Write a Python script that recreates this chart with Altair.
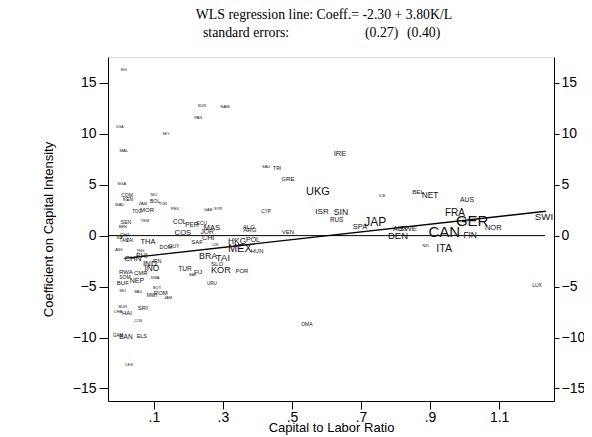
import altair as alt
import pandas as pd

# ---- country labels: name, capital/labor ratio, coefficient, weight (font size) ----
names = ["NIG","SUR","NAM","PAN","UGA","SEY","MAL","NGA","COM","KEN","NIC","MAD","ZAM","BOL","TUN",
         "TOG","MOR","REU","SEN","BEN","YEM","GAB","SYR","COL","PER","ECU","MAS","COS","JOR","CHI",
         "SAF","CZE","HKG","POL","MEX","HUN","BRA","TAI","SLO","KOR","POR","TUR","FIJ","BAR","URU",
         "THA","DOM","GUY","ANG","PNG","GHA","SIE","TAN","ZAI","CHN","PHI","IRN","IND","INO","RWA",
         "CMR","SOM","NEP","BUF","SWA","MLI","MAU","BOT","MWI","ROM","JAM","SRI","BUR","CHA","HAI",
         "CON","GAM","BAN","ELS","LES","SAU","TRI","IRE","GRE","UKG","ICE","ISR","SIN","RUS","CYP",
         "ALG","ARG","VEN","JAP","SPA","BEL","NET","AUS","FRA","GER","NOR","SWI","AUT","SWE","DEN",
         "CAN","FIN","NZL","ITA","OMA","LUX"]
kl = [0.013,0.239,0.306,0.228,0.001,0.135,0.013,0.007,0.022,0.025,0.100,0.001,0.068,0.103,0.126,
      0.051,0.080,0.161,0.019,0.010,0.074,0.257,0.286,0.175,0.210,0.239,0.268,0.184,0.254,0.257,
      0.225,0.277,0.341,0.387,0.349,0.399,0.257,0.300,0.283,0.294,0.355,0.190,0.228,0.213,0.268,
      0.083,0.135,0.158,-0.001,0.062,0.016,0.001,0.013,0.030,0.039,0.065,0.109,0.088,0.094,0.019,
      0.062,0.016,0.051,0.010,0.103,0.010,0.054,0.109,0.094,0.120,0.141,0.068,0.010,-0.004,0.022,
      0.054,-0.004,0.019,0.065,0.028,0.425,0.457,0.639,0.488,0.575,0.761,0.587,0.642,0.629,0.425,
      0.375,0.378,0.488,0.741,0.697,0.865,0.900,1.007,0.972,1.022,1.083,1.230,0.813,0.836,0.807,
      0.941,1.016,0.888,0.941,0.543,1.210]
coef = [16.3,12.7,12.6,11.5,10.7,9.96,8.3,5.06,3.98,3.59,3.98,3.0,3.1,3.4,3.1,
        2.32,2.5,2.6,1.33,0.84,1.43,2.5,2.6,1.33,1.04,1.24,0.75,0.26,0.35,-0.24,
        -0.63,-0.92,-0.63,-0.43,-1.32,-1.51,-2.0,-2.2,-2.79,-3.38,-3.47,-3.28,-3.57,-3.87,-4.75,
        -0.63,-1.12,-1.02,-1.41,-1.51,-0.04,-0.24,-0.53,-0.53,-2.3,-2.0,-2.49,-2.79,-3.18,-3.57,
        -3.67,-4.06,-4.46,-4.65,-4.16,-5.46,-5.56,-5.17,-5.85,-5.65,-6.12,-7.1,-7.0,-7.5,-7.6,
        -8.4,-9.85,-9.95,-9.85,-12.7,6.73,6.63,8.0,5.55,4.28,3.89,2.32,2.32,1.53,2.32,
        0.84,0.55,0.35,1.33,0.84,4.28,3.89,3.49,2.22,1.43,0.75,1.83,0.65,0.65,-0.04,
        0.35,-0.04,-1.02,-1.32,-8.67,-4.85]
weight = [3.5,4,4,4,3.5,3.5,4.3,4,5,5,4,4,4,5,4,
          4.5,6,4,5,4,4,4,4,6.5,6.5,5,7.7,7.7,6.7,7,
          6,3.5,8.3,7,11,5.8,8.8,9.6,6,9.2,6,6.5,6,3.5,4.6,
          7.5,5.5,5,3.5,3.5,4.5,4,4.5,4.5,8,7,5,8,8.4,6,
          6,5,7,6,4,4,3.5,4,5,6,4,6,4,4,6,
          3.5,4.5,6.5,5.5,4,4,5,7.6,6.2,11,4,8,8.6,6.3,4.7,
          6.2,6.2,6,12,7.5,6.2,8.3,6.8,10,15,7.5,9.7,7,8,9.5,
          15,8.3,4,10.7,5,5]

# regression line end points and zero reference line
reg_kl = [0.015, 1.235]
reg_coef = [-2.24, 2.39]
zero_kl = [-0.033, 1.233]
zero_coef = [0, 0]

x_ticks = [0.1, 0.3, 0.5, 0.7, 0.9, 1.1]
y_ticks = [-15, -10, -5, 0, 5, 10, 15]

title1 = ["WLS regression line: Coeff.= -2.30 + 3.80K/L"]
title2a = ["standard errors:"]
title2b = ["(0.27)"]
title2c = ["(0.40)"]

df = pd.DataFrame({"name": names, "kl": kl, "coef": coef, "w": weight})
reg = pd.DataFrame({"kl": reg_kl, "coef": reg_coef})
zero = pd.DataFrame({"kl": zero_kl, "coef": zero_coef})

xs = alt.Scale(domain=[-0.033, 1.259], nice=False, zero=False)
ys = alt.Scale(domain=[-16.23, 17.53], nice=False, zero=False)

FONT = "Liberation Sans"
SERIF = "Liberation Serif"

x_axis = alt.Axis(values=x_ticks, labelExpr="replace(format(datum.value, '.1f'), '0.', '.')",
                  grid=False, tickSize=8, labelPadding=1, labelFontSize=14, labelFont=FONT,
                  labelColor="black", domainColor="black", tickColor="black",
                  title="Capital to Labor Ratio", titleFont=FONT, titleFontSize=13,
                  titleFontWeight="normal", titlePadding=-3, titleColor="black")
y_axis = alt.Axis(values=y_ticks, grid=False, tickSize=9, labelPadding=3, labelFontSize=14,
                  labelFont=FONT, labelColor="black", domainColor="black", tickColor="black",
                  title="Coefficient on Capital Intensity", titleFont=FONT, titleFontSize=13,
                  titleFontWeight="normal", titlePadding=17, titleColor="black")
y_axis_r = alt.Axis(values=y_ticks, grid=False, tickSize=5, labelPadding=2, labelFontSize=14,
                    labelFont=FONT, labelColor="black", domainColor="black", tickColor="black",
                    orient="right", title=None)

labels = alt.Chart(df).mark_text(font=FONT, color="#111").encode(
    x=alt.X("kl:Q", scale=xs, axis=x_axis),
    y=alt.Y("coef:Q", scale=ys, axis=y_axis),
    text="name:N",
    size=alt.Size("w:Q", scale=None, legend=None),
)

zline = alt.Chart(zero).mark_line(color="black", strokeWidth=1).encode(
    x=alt.X("kl:Q", scale=xs), y=alt.Y("coef:Q", scale=ys))
rline = alt.Chart(reg).mark_line(color="black", strokeWidth=1.3).encode(
    x=alt.X("kl:Q", scale=xs), y=alt.Y("coef:Q", scale=ys))

right = alt.Chart(zero).mark_point(opacity=0).encode(
    x=alt.X("kl:Q", scale=xs), y=alt.Y("coef:Q", scale=ys, axis=y_axis_r))


def title_text(values, x, y, align):
    return alt.Chart(pd.DataFrame({"t": values})).mark_text(
        font=SERIF, fontSize=13.8, align=align, baseline="middle", color="black"
    ).encode(x=alt.value(x), y=alt.value(y), text="t:N")


t1 = title_text(title1, 216, -42, "center")
t2a = title_text(title2a, 95, -24, "left")
t2b = title_text(title2b, 257, -24, "left")
t2c = title_text(title2c, 299, -24, "left")

main = alt.layer(zline, rline, labels, t1, t2a, t2b, t2c)
chart = alt.layer(main, right).resolve_scale(y="independent").properties(
    width=446, height=344,
    autosize=alt.AutoSizeParams(type="none"),
    padding={"left": 100, "top": 49, "right": 30, "bottom": 36},
).configure_view(stroke="black", strokeWidth=1).configure(background="white")

chart.save("out.html", embed_options={"renderer": "svg", "actions": False})
